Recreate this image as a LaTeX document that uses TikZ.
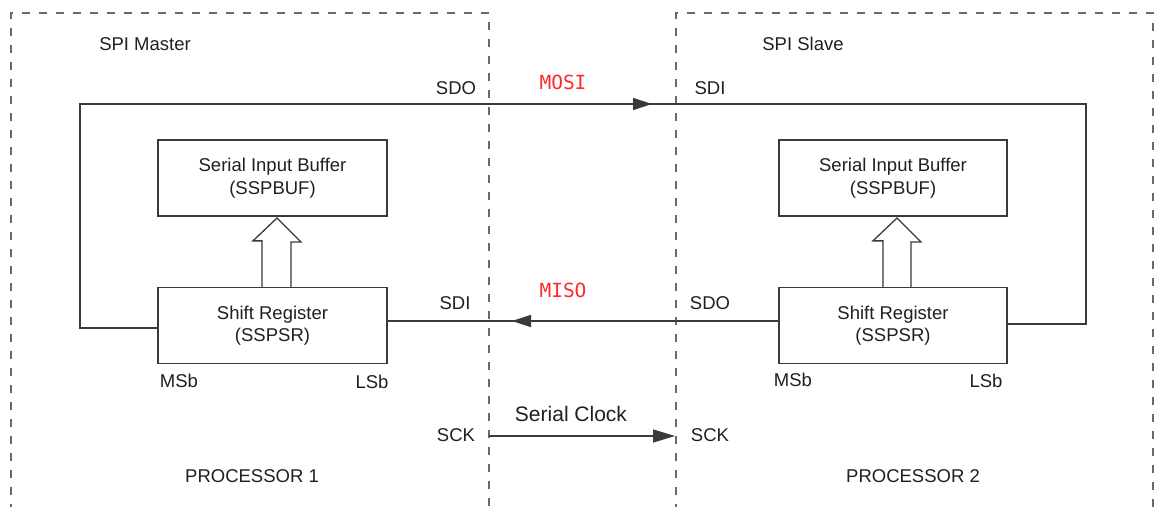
\documentclass[tikz,border=0pt]{standalone}
\usepackage{fontspec}
\setmainfont{Liberation Sans}
\newfontfamily\monofont{DejaVu Sans Mono}
\usetikzlibrary{arrows.meta}
\definecolor{linegray}{HTML}{3A3A3A}
\definecolor{dashgray}{HTML}{6A6A6A}
\definecolor{txt}{HTML}{202020}
\definecolor{sigred}{HTML}{FF2A2A}
\tikzset{
  regbox/.style={draw=linegray, line width=1.3pt, minimum width=229pt, minimum height=76pt,
    align=center, inner sep=0pt, text=txt, font=\fontsize{18.5}{22.5}\selectfont},
  lbl/.style={text=txt, inner sep=0pt, font=\fontsize{18.5}{22}\selectfont},
  siglbl/.style={text=sigred, inner sep=0pt, font=\monofont\fontsize{19.5}{22}\selectfont},
  wire/.style={draw=linegray, line width=1.3pt},
  procbox/.style={draw=dashgray, line width=1.2pt, dash pattern=on 8pt off 9pt},
  hollow/.style={draw=linegray, line width=1.3pt, fill=white, line join=miter},
  tipR/.style={-{Triangle[length=19pt,width=12pt]}},
}
\begin{document}
\begin{tikzpicture}[x=1pt,y=-1pt]
\useasboundingbox[fill=white] (0,0) rectangle (1155,506);
% processor regions
\draw[procbox] (11,512) -- (11,13) -- (489,13) -- (489,512);
\draw[procbox] (676,512) -- (676,13) -- (1153,13) -- (1153,512);
% boxes
\node[regbox] (mBuf) at (272.5,178) {Serial Input Buffer\\(SSPBUF)};
\node[regbox] (mSR) at (272.5,325.5) {Shift Register\\(SSPSR)};
\node[regbox, minimum width=228pt] (sBuf) at (893,178) {Serial Input Buffer\\(SSPBUF)};
\node[regbox, minimum width=228pt] (sSR) at (893,325.5) {Shift Register\\(SSPSR)};
% hollow transfer arrows
\draw[hollow] ([xshift=-10.5pt]mSR.north) -- ++(0,-46) -- ++(-9,0) -- (277,218) -- (301,242) -- ++(-10,0) -- ([xshift=18.5pt]mSR.north);
\draw[hollow] ([xshift=-10pt]sSR.north) -- ++(0,-46) -- ++(-10,0) -- (897,218) -- (921,242) -- ++(-10,0) -- ([xshift=18pt]sSR.north);
% MOSI loop
\coordinate (rTop) at (1086,104);
\coordinate (lTop) at (80,104);
\coordinate (mosiTip) at (652,104);
\draw[wire] ([yshift=1.5pt]sSR.east) -| (rTop) -- (lTop) |- ([yshift=-2.5pt]mSR.west);
\draw[wire, tipR] (lTop) -- (mosiTip);
% MISO
\coordinate (misoTip) at (512,321);
\draw[wire] ([yshift=4.5pt]sSR.west) -- ([yshift=4.5pt]mSR.east);
\draw[wire, tipR] ([yshift=4.5pt]sSR.west) -- (misoTip);
% serial clock
\coordinate (sckA) at (489,436);
\coordinate (sckB) at (675,436);
\draw[wire, -{Triangle[length=22pt,width=13pt]}] (sckA) -- (sckB);
% labels
\node[lbl] (tMaster) at (145,44) {SPI Master};
\node[lbl] (tSlave) at (803,44) {SPI Slave};
\node[lbl] (tSDO1) at (456,88) {SDO};
\node[siglbl] (tMOSI) at (563,82) {MOSI};
\node[lbl] (tSDI1) at (710,88) {SDI};
\node[lbl] (tSDI2) at (455,303) {SDI};
\node[siglbl] (tMISO) at (563,290) {MISO};
\node[lbl] (tSDO2) at (710,303) {SDO};
\node[lbl] (tMSb1) at (179,381) {MSb};
\node[lbl] (tLSb1) at (372,382) {LSb};
\node[lbl] (tMSb2) at (793,380) {MSb};
\node[lbl] (tLSb2) at (986,381) {LSb};
\node[lbl, font=\fontsize{21}{24}\selectfont] (tClk) at (571,414) {Serial Clock};
\node[lbl] (tSCK1) at (456,435) {SCK};
\node[lbl] (tSCK2) at (710,435) {SCK};
\node[lbl] (tP1) at (252,476) {PROCESSOR 1};
\node[lbl] (tP2) at (913,476) {PROCESSOR 2};
\end{tikzpicture}
\end{document}
